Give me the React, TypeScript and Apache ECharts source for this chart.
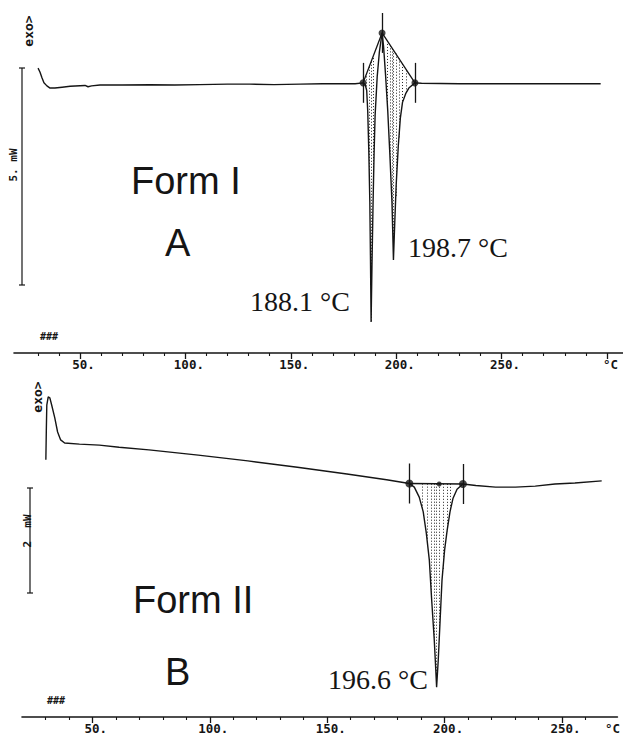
import React, { useEffect, useRef } from 'react';
import * as echarts from 'echarts';

// ---------- Panel A (Form I) ----------
const topTemp = [30.1, 31.0, 32.0, 32.9, 34.3, 35.8, 38.1, 41.5, 45.3, 52.4, 53.8, 55.5, 59.5, 70, 83.2, 95, 106.9, 120, 130.6, 142, 154.4, 165, 173.3, 180.5, 184.3, 185.2, 186.0, 186.5, 187.0, 187.5, 187.8, 188.1, 188.5, 189.0, 189.5, 190.0, 191.0, 192.0, 193.3, 194.0, 195.0, 196.0, 197.0, 198.0, 198.7, 199.3, 200.0, 201.0, 202.0, 203.0, 204.5, 206.0, 208.9, 212, 230, 260, 280, 297];
const topFlow = [0.39, 0.30, 0.16, 0.05, -0.02, -0.07, -0.07, -0.05, -0.03, -0.01, -0.04, -0.02, 0.0, 0.0, 0.005, 0.0, 0.01, 0.02, 0.02, 0.01, 0.02, 0.03, 0.03, 0.03, 0.05, 0.02, -0.12, -0.6, -1.5, -2.7, -4.0, -5.46, -4.2, -2.8, -1.6, -0.7, 0.2, 0.75, 1.2, 0.9, 0.2, -0.6, -1.6, -2.7, -4.03, -3.2, -2.3, -1.4, -0.75, -0.4, -0.2, -0.07, 0.05, 0.04, 0.03, 0.03, 0.03, 0.03];
const topMarkTemp = [184.3, 193.3, 208.9];
const topMarkFlow = [0.05, 1.2, 0.05];
const topHatch = [186.0, 187.2, 188.1, 189.3, 195.8, 197.2, 198.2, 198.7, 199.8, 201.3, 203.0, 205.0];

// ---------- Panel B (Form II) ----------
const botTemp = [30.2, 30.4, 30.6, 31.2, 31.9, 32.7, 34.0, 35.2, 36.5, 38.2, 44.5, 53.0, 61.4, 74.1, 95.1, 116.2, 137.3, 158.4, 175.3, 185.0, 187.1, 189.2, 190.9, 192.2, 193.5, 194.5, 195.6, 196.2, 196.6, 197.3, 198.1, 198.9, 200.0, 201.1, 202.3, 203.6, 205.3, 207.8, 213.3, 221.7, 230.2, 238.6, 247.0, 255.5, 266.9];
const botFlow = [0.46, 1.03, 1.50, 1.66, 1.64, 1.50, 1.26, 0.99, 0.84, 0.78, 0.76, 0.74, 0.70, 0.65, 0.55, 0.44, 0.32, 0.19, 0.08, 0.01, -0.06, -0.25, -0.53, -0.93, -1.45, -2.21, -2.97, -3.50, -3.87, -3.35, -2.59, -1.83, -1.26, -0.88, -0.53, -0.27, -0.10, 0.0, -0.03, -0.06, -0.06, -0.04, 0.0, 0.02, 0.06];
const botMarkTemp = [185.0, 197.7, 207.8];
const botMarkFlow = [0.01, 0.0, 0.0];
const botHatch = [190.5, 192.5, 194.3, 195.6, 196.6, 197.7, 199.3, 201.0, 202.6];

// ---------- Axis ticks / labels ----------
const majorTicksA = [50, 100, 150, 200, 250, 300];
const minorTicksA = [30, 40, 60, 70, 80, 90, 110, 120, 130, 140, 160, 170, 180, 190, 210, 220, 230, 240, 260, 270, 280, 290];
const labelsA = [50, 100, 150, 200, 250, 300];
const majorTicksB = [50, 100, 150, 200, 250];
const minorTicksB = [30, 40, 60, 70, 80, 90, 110, 120, 130, 140, 160, 170, 180, 190, 210, 220, 230, 240, 260];
const labelsB = [50, 100, 150, 200, 250, 270];
const unitLabelA = 300;
const unitLabelB = 270;

const INK = '#151515';
const MONO = '"DejaVu Sans Mono", "Liberation Mono", monospace';
const SANS = '"Liberation Sans", Arial, sans-serif';
const SERIF = '"Liberation Serif", "Times New Roman", serif';

function interp(xs: number[], ys: number[], t: number): number {
  for (let i = 0; i < xs.length - 1; i++) {
    if (t >= xs[i] && t <= xs[i + 1]) {
      const f = (t - xs[i]) / (xs[i + 1] - xs[i]);
      return ys[i] + f * (ys[i + 1] - ys[i]);
    }
  }
  return ys[ys.length - 1];
}

function pairs(xs: number[], ys: number[]) {
  return xs.map((x, i) => [x, ys[i]]);
}

function hatchLines(ht: number[], cx: number[], cy: number[], bx: number[], by: number[]) {
  return ht.map((t) => ({ coords: [[t, interp(bx, by, t)], [t, interp(cx, cy, t)]] }));
}

function markerLines(mx: number[], my: number[], half: number, idx: number[]) {
  return idx.map((i) => ({ coords: [[mx[i], my[i] + half], [mx[i], my[i] - half]] }));
}

function xAxes(gridIndex: number, min: number, max: number, major: number[], minor: number[], labels: number[], unit: number, margin: number) {
  return [
    {
      type: 'value', gridIndex, min, max, position: 'bottom',
      axisLine: { show: true, onZero: false, lineStyle: { color: INK, width: 1.6 } },
      axisTick: { show: true, length: 6, customValues: major, lineStyle: { color: INK, width: 1.3 } },
      axisLabel: {
        show: true, customValues: labels, margin, color: INK,
        fontFamily: MONO, fontWeight: 'bold', fontSize: 12.5,
        formatter: (v: number) => (v === unit ? '°C' : v + '.'),
        padding: [0, 0, 0, 7],
      },
      splitLine: { show: false },
    },
    {
      type: 'value', gridIndex, min, max, position: 'bottom',
      axisLine: { show: false, onZero: false },
      axisTick: { show: true, length: 3, customValues: minor, lineStyle: { color: INK, width: 1.1 } },
      axisLabel: { show: false },
      splitLine: { show: false },
    },
  ];
}

export default function App() {
  const ref = useRef<HTMLDivElement>(null);
  useEffect(() => {
    document.body.style.margin = '0';
    const chart = echarts.init(ref.current!, undefined, { renderer: 'svg' });

    const topBaseX = topMarkTemp;
    const topBaseY = topMarkFlow;
    const botBaseX = [botMarkTemp[0], botMarkTemp[2]];
    const botBaseY = [botMarkFlow[0], botMarkFlow[2]];

    const text = (t: string, x: number, y: number, font: string, extra: any = {}) => ({
      type: 'text', x, y, ...extra,
      style: { text: t, font, fill: INK, textAlign: 'left', align: 'left', textVerticalAlign: 'middle', verticalAlign: 'middle' },
    });
    const vtext = (t: string, x: number, y: number, font: string) => ({
      type: 'text', x, y, rotation: Math.PI / 2,
      style: { text: t, font, fill: INK, textAlign: 'center', align: 'center', textVerticalAlign: 'middle', verticalAlign: 'middle' },
    });
    const ln = (x1: number, y1: number, x2: number, y2: number, w = 1.2) => ({
      type: 'line', shape: { x1, y1, x2, y2 }, style: { stroke: INK, lineWidth: w },
    });
    const hatchStyle = { color: '#222', width: 1, type: [1, 2], opacity: 1 };

    chart.setOption({
      animation: false,
      backgroundColor: '#ffffff',
      grid: [
        { left: 14, right: 0, top: 0, height: 353 },
        { left: 22, right: 0, top: 370, height: 347 },
      ],
      xAxis: [
        ...xAxes(0, 18.69, 307.6, majorTicksA, minorTicksA, labelsA, unitLabelA, 5),
        ...xAxes(1, 20.04, 273.6, majorTicksB, minorTicksB, labelsB, unitLabelB, 5),
      ],
      yAxis: [
        { type: 'value', gridIndex: 0, min: -6.175, max: 1.959, show: false },
        { type: 'value', gridIndex: 1, min: -4.438, max: 2.171, show: false },
      ],
      series: [
        // Panel A
        {
          type: 'line', xAxisIndex: 0, yAxisIndex: 0, data: pairs(topTemp, topFlow),
          showSymbol: false, lineStyle: { color: INK, width: 1.4 }, z: 3,
        },
        {
          type: 'line', xAxisIndex: 0, yAxisIndex: 0, data: pairs(topMarkTemp, topMarkFlow),
          showSymbol: false, lineStyle: { color: INK, width: 1.3 }, z: 3,
        },
        {
          type: 'lines', coordinateSystem: 'cartesian2d', xAxisIndex: 0, yAxisIndex: 0,
          data: hatchLines(topHatch, topTemp, topFlow, topBaseX, topBaseY),
          lineStyle: hatchStyle, z: 2,
        },
        {
          type: 'lines', coordinateSystem: 'cartesian2d', xAxisIndex: 0, yAxisIndex: 0,
          data: markerLines(topMarkTemp, topMarkFlow, 0.46, [0, 1, 2]),
          lineStyle: { color: INK, width: 1.3, opacity: 1 }, z: 3,
        },
        {
          type: 'scatter', xAxisIndex: 0, yAxisIndex: 0, data: pairs(topMarkTemp, topMarkFlow),
          symbol: 'circle', symbolSize: 7, itemStyle: { color: INK }, z: 4,
        },
        // Panel B
        {
          type: 'line', xAxisIndex: 2, yAxisIndex: 1, data: pairs(botTemp, botFlow),
          showSymbol: false, lineStyle: { color: INK, width: 1.4 }, z: 3,
        },
        {
          type: 'line', xAxisIndex: 2, yAxisIndex: 1, data: pairs(botBaseX, botBaseY),
          showSymbol: false, lineStyle: { color: INK, width: 1.6 }, z: 3,
        },
        {
          type: 'lines', coordinateSystem: 'cartesian2d', xAxisIndex: 2, yAxisIndex: 1,
          data: hatchLines(botHatch, botTemp, botFlow, botBaseX, botBaseY),
          lineStyle: hatchStyle, z: 2,
        },
        {
          type: 'lines', coordinateSystem: 'cartesian2d', xAxisIndex: 2, yAxisIndex: 1,
          data: markerLines(botMarkTemp, botMarkFlow, 0.38, [0, 2]),
          lineStyle: { color: INK, width: 1.3, opacity: 1 }, z: 3,
        },
        {
          type: 'scatter', xAxisIndex: 2, yAxisIndex: 1, data: pairs(botMarkTemp, botMarkFlow),
          symbol: 'circle', symbolSize: (v: any, p: any) => (p.dataIndex === 1 ? 5 : 8), itemStyle: { color: INK }, z: 4,
        },
      ],
      graphic: [
        // Panel A annotations
        vtext('exo>', 28, 31, `bold 13px ${MONO}`),
        vtext('5. mW', 13, 165, `bold 11px ${MONO}`),
        ln(22, 68, 22, 285),
        ln(19, 68, 25, 68),
        ln(19, 285, 25, 285),
        text('###', 40, 336, `bold 10px ${MONO}`),
        text('Form I', 131, 181, `38px ${SANS}`),
        text('A', 165, 243, `38px ${SANS}`),
        text('188.1 °C', 250, 301, `28px ${SERIF}`),
        text('198.7 °C', 408, 247, `28px ${SERIF}`),
        // Panel B annotations
        vtext('exo>', 37, 397, `bold 13px ${MONO}`),
        vtext('2  mW', 27, 531, `bold 11px ${MONO}`),
        ln(30, 488, 30, 593),
        ln(27, 488, 33, 488),
        ln(27, 593, 33, 593),
        text('###', 47, 700, `bold 10px ${MONO}`),
        text('Form II', 133, 600, `38px ${SANS}`),
        text('B', 165, 672, `38px ${SANS}`),
        text('196.6 °C', 328, 679, `28px ${SERIF}`),
      ],
    });
    return () => chart.dispose();
  }, []);
  return <div ref={ref} style={{ position: 'fixed', left: 0, top: 0, width: 623, height: 736 }} />;
}
